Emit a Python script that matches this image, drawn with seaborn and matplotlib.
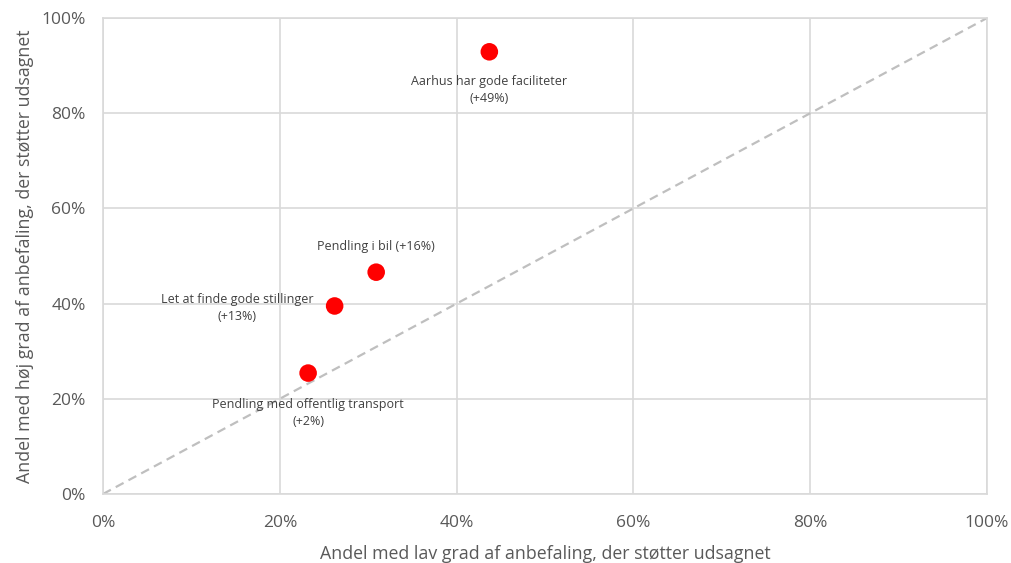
import matplotlib
matplotlib.use("Agg")
import matplotlib.pyplot as plt
import seaborn as sns
import pandas as pd
from matplotlib.ticker import PercentFormatter

# Shares supporting each statement (fractions)
labels = [
    "Aarhus har gode faciliteter",
    "Pendling i bil",
    "Let at finde gode stillinger",
    "Pendling med offentlig transport",
]
low_share = [0.437, 0.309, 0.262, 0.232]
high_share = [0.929, 0.466, 0.395, 0.254]
diff_text = ["(+49%)", "(+16%)", "(+13%)", "(+2%)"]

df = pd.DataFrame({"label": labels, "low": low_share, "high": high_share, "diff": diff_text})

sns.set_theme(style="white")
plt.rcParams["font.family"] = ["Open Sans", "DejaVu Sans"]

fig = plt.figure(figsize=(10.11, 5.63), dpi=100)
ax = fig.add_axes([0.1019, 0.1226, 0.8744, 0.8454])

grid_col = "#d9d9d9"
ax.set_xlim(0, 1)
ax.set_ylim(0, 1)
ax.set_xticks([0, 0.2, 0.4, 0.6, 0.8, 1.0])
ax.set_yticks([0, 0.2, 0.4, 0.6, 0.8, 1.0])
ax.grid(True, color=grid_col, linewidth=1.2)
ax.set_axisbelow(True)
for side, sp in ax.spines.items():
    sp.set_visible(True)
    sp.set_color(grid_col)
    sp.set_linewidth(1.2)

# Diagonal reference line (equal shares)
ax.plot([0, 1], [0, 1], color="#bfbfbf", linestyle=(0, (4, 2.5)), linewidth=1.6, zorder=2)

sns.scatterplot(data=df, x="low", y="high", ax=ax, s=160, color="#ff0000",
                edgecolor="none", zorder=3, legend=False)

txt_col = "#404040"
fs = 9
# Label placement per point: (dx, dy) in points, horizontal alignment, vertical alignment
placement = {
    "Aarhus har gode faciliteter": ((0, -17), "center", "top", True),
    "Pendling i bil": ((0, 14), "center", "bottom", False),
    "Let at finde gode stillinger": ((-15, -1.5), "right", "center", True),
    "Pendling med offentlig transport": ((0, -18), "center", "top", True),
}
for _, r in df.iterrows():
    (dx, dy), ha, va, two_lines = placement[r["label"]]
    text = f"{r['label']}\n{r['diff']}" if two_lines else f"{r['label']} {r['diff']}"
    ax.annotate(text, (r["low"], r["high"]), xytext=(dx, dy), textcoords="offset points",
                ha=ha, va=va, multialignment="center", fontsize=fs, color=txt_col,
                linespacing=1.4)

ax.xaxis.set_major_formatter(PercentFormatter(1.0, decimals=0))
ax.yaxis.set_major_formatter(PercentFormatter(1.0, decimals=0))
ax.tick_params(axis="both", which="both", length=0, labelsize=12.5, labelcolor="#595959")
ax.tick_params(axis="x", pad=15)
ax.tick_params(axis="y", pad=12.5)

ax.set_xlabel("Andel med lav grad af anbefaling, der støtter udsagnet", fontsize=12.8,
              color="#595959", labelpad=10)
ax.set_ylabel("Andel med høj grad af anbefaling, der støtter udsagnet", fontsize=12.8,
              color="#595959", labelpad=5)

fig.savefig("out.png", dpi=100)
